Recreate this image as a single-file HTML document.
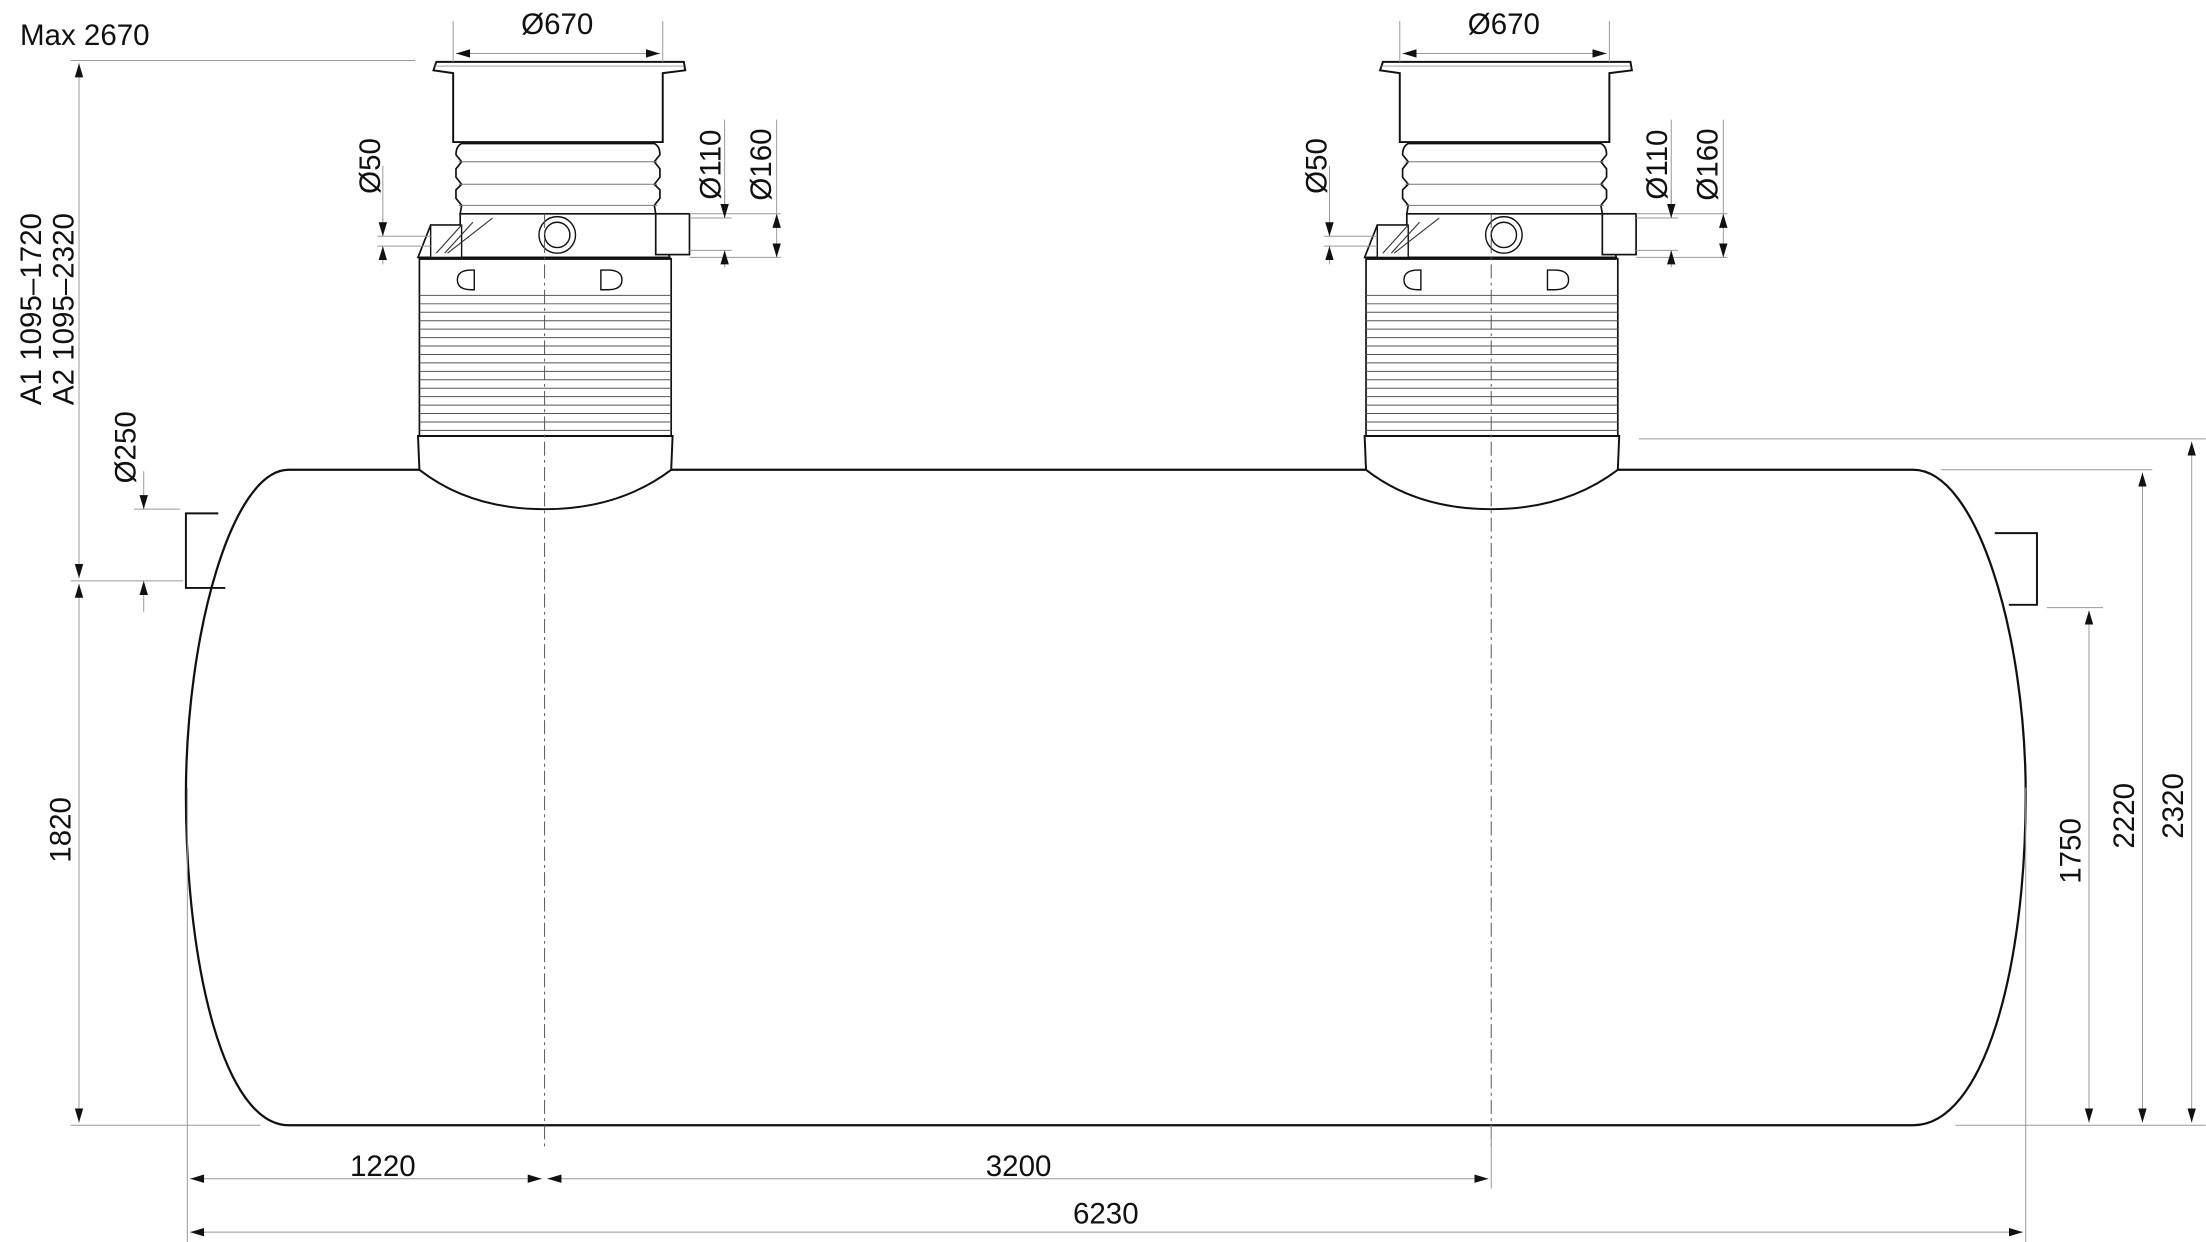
<!DOCTYPE html>
<html><head><meta charset="utf-8"><style>
html,body{margin:0;padding:0;background:#fff;width:2206px;height:1242px;overflow:hidden}
svg{display:block}
text{font-family:"Liberation Sans Narrow","Liberation Sans",sans-serif;font-size:21px;fill:#111}
</style></head><body>
<svg width="2206" height="1242" viewBox="0 0 1568 883" xmlns="http://www.w3.org/2000/svg">
<defs>
<marker id="a" viewBox="0 0 10 10" refX="10" refY="5" markerWidth="10" markerHeight="10" markerUnits="userSpaceOnUse" orient="auto-start-reverse"><path d="M0,2 L10,5 L0,8 Z" fill="#111"/></marker>
<g id="shaft">
 <!-- lid -->
 <path d="M308,50 L310,44 L486,44 L487,50 L471,52 L471,101 L322,101 L322,52 Z" fill="#fff" stroke="#111" stroke-width="1.4"/>
 <line x1="309" y1="47" x2="486" y2="47" stroke="#999" stroke-width="0.6"/>
 <!-- bellows -->
 <path d="M328,102 L465,102 Q469,104 469,110 L465,115 L469,120 L469,126 L465,131 L469,135 L469,141 L465,146 L466,152 L327,152 L328,146 L324,141 L324,135 L328,131 L324,126 L324,120 L328,115 L324,110 Q324,104 328,102 Z" fill="#fff" stroke="#111" stroke-width="1.2"/>
 <line x1="326" y1="115" x2="467" y2="115" stroke="#777" stroke-width="0.7"/>
 <line x1="326" y1="131" x2="467" y2="131" stroke="#777" stroke-width="0.7"/>
 <line x1="326" y1="146" x2="467" y2="146" stroke="#777" stroke-width="0.7"/>
 <!-- collar -->
 <path d="M327,152 L466,152 L476,183 L297,183 L306,160 L327,160 Z" fill="#fff" stroke="#111" stroke-width="1.2"/>
 <rect x="306" y="160" width="22" height="23" fill="#fff" stroke="#111" stroke-width="1"/>
 <path d="M310,180 L328,160 M316,180 L336,158 M318,180 L350,155" stroke="#333" stroke-width="0.8" fill="none"/>
 <rect x="466" y="152" width="24" height="29" fill="#fff" stroke="#111" stroke-width="1.2"/>
 <circle cx="396" cy="167" r="13" fill="#fff" stroke="#111" stroke-width="1"/>
 <circle cx="396" cy="167" r="9" fill="none" stroke="#111" stroke-width="1"/>
 <!-- body -->
 <rect x="298" y="184" width="179" height="126" fill="#fff" stroke="#111" stroke-width="1.2"/>
 <path d="M298,184 L476,184" stroke="#111" stroke-width="1.5"/>
 <path d="M335,192 q-10,0 -10,7 q0,7 10,7 l2,0 l0,-14 z" fill="none" stroke="#111" stroke-width="1"/>
 <path d="M427,192 l5,0 q10,0 10,7 q0,7 -10,7 l-5,0 z" fill="none" stroke="#111" stroke-width="1"/>
 <g stroke="#555" stroke-width="0.7">
  <line x1="298" y1="210" x2="477" y2="210"/><line x1="298" y1="216" x2="477" y2="216"/><line x1="298" y1="222" x2="477" y2="222"/><line x1="298" y1="228" x2="477" y2="228"/><line x1="298" y1="234" x2="477" y2="234"/><line x1="298" y1="240" x2="477" y2="240"/><line x1="298" y1="246" x2="477" y2="246"/><line x1="298" y1="252" x2="477" y2="252"/><line x1="298" y1="258" x2="477" y2="258"/><line x1="298" y1="264" x2="477" y2="264"/><line x1="298" y1="270" x2="477" y2="270"/><line x1="298" y1="276" x2="477" y2="276"/><line x1="298" y1="282" x2="477" y2="282"/><line x1="298" y1="288" x2="477" y2="288"/><line x1="298" y1="294" x2="477" y2="294"/><line x1="298" y1="300" x2="477" y2="300"/><line x1="298" y1="306" x2="477" y2="306"/>
 </g>
 <!-- bottom collar / dome -->
 <path d="M297,310 L478,310 L477,334 Q440,362 387,362 Q334,362 298,334 Z" fill="#fff" stroke="#111" stroke-width="1.4"/>
 <line x1="387" y1="152" x2="387" y2="815" stroke="#555" stroke-width="0.7" stroke-dasharray="10,3,2,3"/>
</g>
</defs>

<!-- tank -->
<path d="M205,334 L1360,334 C1405,334 1440,450 1440,565 C1440,690 1410,800 1360,800 L205,800 C160,800 132,690 132,565 C132,450 165,334 205,334 Z" fill="#fff" stroke="#111" stroke-width="1.6"/>
<!-- inlet/outlet pipes -->
<path d="M155,365 L132,365 L132,418 L160,418" fill="none" stroke="#111" stroke-width="1.4"/>
<path d="M1418,379 L1448,379 L1448,430 L1428,430" fill="none" stroke="#111" stroke-width="1.4"/>

<use href="#shaft"/>
<use href="#shaft" transform="translate(673,0)"/>

<g stroke="#999" stroke-width="0.7" fill="none">
 <!-- extension lines -->
 <line x1="50" y1="43" x2="295" y2="43"/>
 <line x1="50" y1="413" x2="130" y2="413"/>
 <line x1="95" y1="362" x2="128" y2="362"/>
 <line x1="50" y1="800" x2="185" y2="800"/>
 <line x1="1390" y1="800" x2="1568" y2="800"/>
 <line x1="1165" y1="312" x2="1568" y2="312"/>
 <line x1="1380" y1="334" x2="1530" y2="334"/>
 <line x1="1455" y1="432" x2="1495" y2="432"/>
 <line x1="133" y1="560" x2="133" y2="883"/>
 <line x1="1440" y1="560" x2="1440" y2="883"/>
 <line x1="1060" y1="800" x2="1060" y2="845"/>
 <line x1="322" y1="15" x2="322" y2="44"/><line x1="471" y1="15" x2="471" y2="44"/>
 <line x1="995" y1="15" x2="995" y2="44"/><line x1="1144" y1="15" x2="1144" y2="44"/>
 <line x1="515" y1="85" x2="515" y2="155"/><line x1="552" y1="85" x2="552" y2="152"/>
 <line x1="1188" y1="85" x2="1188" y2="155"/><line x1="1225" y1="85" x2="1225" y2="152"/>
 <line x1="490" y1="155" x2="520" y2="155"/><line x1="490" y1="178" x2="520" y2="178"/>
 <line x1="490" y1="152" x2="555" y2="152"/><line x1="490" y1="183" x2="555" y2="183"/>
 <line x1="1163" y1="155" x2="1193" y2="155"/><line x1="1163" y1="178" x2="1193" y2="178"/>
 <line x1="1163" y1="152" x2="1228" y2="152"/><line x1="1163" y1="183" x2="1228" y2="183"/>
 <line x1="272" y1="118" x2="272" y2="168"/><line x1="268" y1="168" x2="306" y2="168"/><line x1="268" y1="175" x2="306" y2="175"/>
 <line x1="945" y1="118" x2="945" y2="168"/><line x1="941" y1="168" x2="979" y2="168"/><line x1="941" y1="175" x2="979" y2="175"/>
</g>
<g stroke="#999" stroke-width="0.7" fill="none">
 <line x1="56" y1="45" x2="56" y2="411" marker-start="url(#a)" marker-end="url(#a)"/>
 <line x1="56" y1="415" x2="56" y2="798" marker-start="url(#a)" marker-end="url(#a)"/>
 <line x1="102" y1="335" x2="102" y2="362" marker-end="url(#a)"/>
 <line x1="102" y1="435" x2="102" y2="413" marker-end="url(#a)"/>
 <line x1="1485" y1="434" x2="1485" y2="798" marker-start="url(#a)" marker-end="url(#a)"/>
 <line x1="1523" y1="336" x2="1523" y2="798" marker-start="url(#a)" marker-end="url(#a)"/>
 <line x1="1558" y1="314" x2="1558" y2="798" marker-start="url(#a)" marker-end="url(#a)"/>
 <line x1="135" y1="838" x2="385" y2="838" marker-start="url(#a)" marker-end="url(#a)"/>
 <line x1="389" y1="838" x2="1058" y2="838" marker-start="url(#a)" marker-end="url(#a)"/>
 <line x1="135" y1="876" x2="1438" y2="876" marker-start="url(#a)" marker-end="url(#a)"/>
 <line x1="324" y1="38" x2="469" y2="38" marker-start="url(#a)" marker-end="url(#a)"/>
 <line x1="997" y1="38" x2="1142" y2="38" marker-start="url(#a)" marker-end="url(#a)"/>
 <line x1="515" y1="135" x2="515" y2="155" marker-end="url(#a)"/><line x1="515" y1="190" x2="515" y2="178" marker-end="url(#a)"/>
 <line x1="552" y1="152" x2="552" y2="183" marker-start="url(#a)" marker-end="url(#a)"/>
 <line x1="1188" y1="135" x2="1188" y2="155" marker-end="url(#a)"/><line x1="1188" y1="190" x2="1188" y2="178" marker-end="url(#a)"/>
 <line x1="1225" y1="152" x2="1225" y2="183" marker-start="url(#a)" marker-end="url(#a)"/>
 <line x1="272" y1="155" x2="272" y2="168" marker-end="url(#a)"/><line x1="272" y1="188" x2="272" y2="175" marker-end="url(#a)"/>
 <line x1="945" y1="155" x2="945" y2="168" marker-end="url(#a)"/><line x1="945" y1="188" x2="945" y2="175" marker-end="url(#a)"/>
</g>

<text x="14" y="32">Max 2670</text>
<text x="396" y="24" text-anchor="middle">Ø670</text>
<text x="1069" y="24" text-anchor="middle">Ø670</text>
<text x="272" y="836" text-anchor="middle">1220</text>
<text x="724" y="836" text-anchor="middle">3200</text>
<text x="786" y="870" text-anchor="middle">6230</text>
<g>
 <text transform="translate(29,288) rotate(-90)">A1  1095–1720</text>
 <text transform="translate(52,288) rotate(-90)">A2  1095–2320</text>
 <text transform="translate(50,590) rotate(-90)" text-anchor="middle">1820</text>
 <text transform="translate(96,318) rotate(-90)" text-anchor="middle">Ø250</text>
 <text transform="translate(270,118) rotate(-90)" text-anchor="middle">Ø50</text>
 <text transform="translate(943,118) rotate(-90)" text-anchor="middle">Ø50</text>
 <text transform="translate(512,117) rotate(-90)" text-anchor="middle">Ø110</text>
 <text transform="translate(548,117) rotate(-90)" text-anchor="middle">Ø160</text>
 <text transform="translate(1185,117) rotate(-90)" text-anchor="middle">Ø110</text>
 <text transform="translate(1221,117) rotate(-90)" text-anchor="middle">Ø160</text>
 <text transform="translate(1479,605) rotate(-90)" text-anchor="middle">1750</text>
 <text transform="translate(1517,580) rotate(-90)" text-anchor="middle">2220</text>
 <text transform="translate(1552,573) rotate(-90)" text-anchor="middle">2320</text>
</g>
</svg>
</body></html>
